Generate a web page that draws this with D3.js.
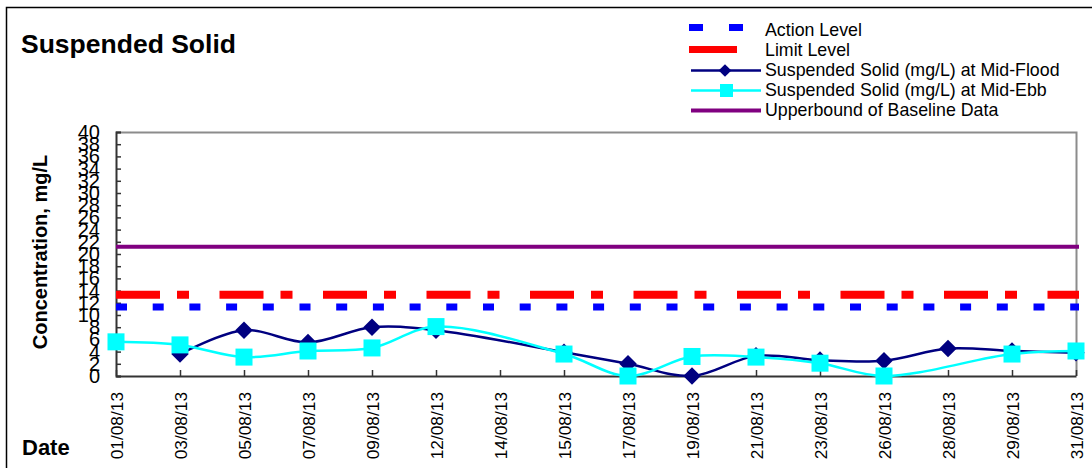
<!DOCTYPE html>
<html><head><meta charset="utf-8">
<script src="https://cdn.jsdelivr.net/npm/d3@7"></script>
<style>
body{margin:0;background:#fff;}
svg{display:block;font-family:"Liberation Sans",Arial,sans-serif;}
</style></head>
<body><svg id="c" width="1092" height="468"></svg>
<script>
const dates = ["01/08/13","03/08/13","05/08/13","07/08/13","09/08/13","12/08/13","14/08/13","15/08/13","17/08/13","19/08/13","21/08/13","23/08/13","26/08/13","28/08/13","29/08/13","31/08/13"];
const midFlood = [null,3.6,7.5,5.5,8.0,7.5,null,3.9,2.0,0.0,3.3,2.6,2.5,4.5,4.1,3.8];
const midEbb   = [5.6,5.1,3.1,4.1,4.6,8.1,null,3.6,0.0,3.2,3.1,2.1,0.0,null,3.6,4.1];
const actionLevel = 11.3;
const limitLevel = 13.3;
const upperbound = 21.2;
const yTicks = [0,2,4,6,8,10,12,14,16,18,20,22,24,26,28,30,32,34,36,38,40];
const legendLabels = ["Action Level","Limit Level","Suspended Solid (mg/L) at Mid-Flood","Suspended Solid (mg/L) at Mid-Ebb","Upperbound of Baseline Data"];

const svg = d3.select("#c");
const L = 116, R = 1076, T = 132, B = 376;
const x = d3.scalePoint().domain(dates).range([L, R]);
const y = d3.scaleLinear().domain([0, 40]).range([B, T]);

// outer frame
svg.append("path").attr("d","M6.5,468 V7.5 H1092").attr("fill","none").attr("stroke","#000").attr("stroke-width",1.5);

// titles
svg.append("text").attr("x",21).attr("y",53).attr("font-size",26.5).attr("font-weight","bold").text("Suspended Solid");
svg.append("text").attr("x",22).attr("y",455).attr("font-size",22).attr("font-weight","bold").text("Date");
svg.append("text").attr("transform","translate(47,252) rotate(-90)").attr("text-anchor","middle")
  .attr("font-size",20).attr("font-weight","bold").text("Concentration, mg/L");

// plot border (top/right gray)
svg.append("path").attr("d",`M${L},${T+0.5} H${R+0.5} V${B}`).attr("fill","none").attr("stroke","#8c8c8c").attr("stroke-width",2);

// y axis
const yAxis = d3.axisLeft(y).tickValues(yTicks).tickSize(-5).tickPadding(16).tickFormat(d3.format("d"));
const gy = svg.append("g").attr("transform",`translate(${L},0)`).call(yAxis);
gy.select(".domain").attr("stroke","#333").attr("stroke-width",2);
gy.selectAll(".tick line").attr("stroke","#333").attr("stroke-width",1.5);
gy.selectAll(".tick text").attr("font-size",20).attr("font-family","Liberation Sans, Arial, sans-serif").attr("fill","#000");

// x axis
const xAxis = d3.axisBottom(x).tickSize(-6).tickSizeOuter(0).tickPadding(0);
const gx = svg.append("g").attr("transform",`translate(0,${B})`).call(xAxis);
gx.select(".domain").attr("stroke","#333").attr("stroke-width",2);
gx.selectAll(".tick line").attr("stroke","#333").attr("stroke-width",1.5);
gx.selectAll(".tick text").attr("font-size",17.3).attr("font-family","Liberation Sans, Arial, sans-serif").attr("fill","#000")
  .attr("transform","rotate(-90)").attr("text-anchor","end").attr("x",-16).attr("y",0).attr("dy","0.35em");

// level lines
function hline(v, color, w, dash){
  svg.append("line").attr("x1",L).attr("x2",R+3).attr("y1",y(v)).attr("y2",y(v))
    .attr("stroke",color).attr("stroke-width",w).attr("stroke-dasharray",dash||null);
}
hline(actionLevel,"#0000ff",7,"11,25.7");
hline(limitLevel,"#ff0000",8,"44,17,12,30.5");
hline(upperbound,"#800080",4,null);

// series
const line = d3.line().x(d=>x(d.k)).y(d=>y(d.v)).curve(d3.curveCatmullRom.alpha(0.5));
function series(vals, color){
  const pts = dates.map((k,i)=>({k, v: vals[i]})).filter(d=>d.v!==null);
  svg.append("path").datum(pts).attr("d",line).attr("fill","none").attr("stroke",color).attr("stroke-width",2.5);
  return pts;
}
const fp = series(midFlood,"#000080");
svg.selectAll(".dia").data(fp).enter().append("rect").attr("class","dia")
  .attr("x",-6.2).attr("y",-6.2).attr("width",12.4).attr("height",12.4).attr("fill","#000080")
  .attr("transform",d=>`translate(${x(d.k)},${y(d.v)}) rotate(45)`);
const ep = series(midEbb,"#00ffff");
svg.selectAll(".sq").data(ep).enter().append("rect").attr("class","sq")
  .attr("x",d=>x(d.k)-8.5).attr("y",d=>y(d.v)-8.5).attr("width",17).attr("height",17).attr("fill","#00ffff");

// legend
const lg = svg.append("g");
const rowY = [27.5, 49.5, 70.5, 90.5, 110.5];
const textY = [36, 56, 76, 96, 116];
lg.selectAll("text").data(legendLabels).enter().append("text")
  .attr("x",765).attr("y",(d,i)=>textY[i]).attr("font-size",17.8).text(d=>d);
lg.append("line").attr("x1",689).attr("x2",744).attr("y1",rowY[0]).attr("y2",rowY[0]).attr("stroke","#0000ff").attr("stroke-width",7).attr("stroke-dasharray","14,26");
lg.append("line").attr("x1",689).attr("x2",737).attr("y1",rowY[1]).attr("y2",rowY[1]).attr("stroke","#ff0000").attr("stroke-width",7);
lg.append("line").attr("x1",691).attr("x2",761).attr("y1",rowY[2]).attr("y2",rowY[2]).attr("stroke","#000080").attr("stroke-width",2.5);
lg.append("rect").attr("x",-4.5).attr("y",-4.5).attr("width",9).attr("height",9).attr("fill","#000080").attr("transform",`translate(725,${rowY[2]}) rotate(45)`);
lg.append("line").attr("x1",691).attr("x2",761).attr("y1",rowY[3]).attr("y2",rowY[3]).attr("stroke","#00ffff").attr("stroke-width",2.5);
lg.append("rect").attr("x",720).attr("y",rowY[3]-6.5).attr("width",13).attr("height",13).attr("fill","#00ffff");
lg.append("line").attr("x1",691).attr("x2",761).attr("y1",rowY[4]).attr("y2",rowY[4]).attr("stroke","#800080").attr("stroke-width",4);
</script></body></html>
